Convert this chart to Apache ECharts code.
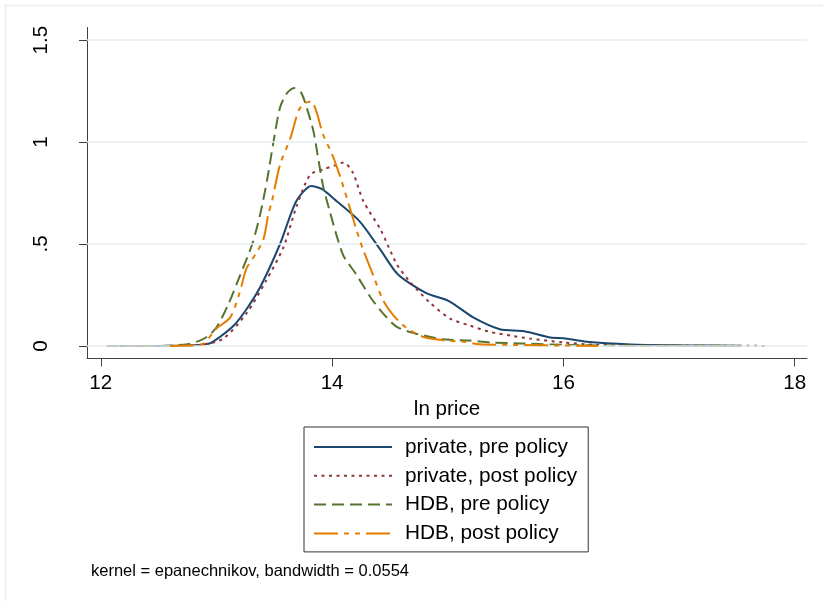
<!DOCTYPE html>
<html>
<head>
<meta charset="utf-8">
<script src="https://cdn.jsdelivr.net/npm/echarts@6/dist/echarts.min.js"></script>
<style>
html,body{margin:0;padding:0;background:#fff;}
#chart{width:823px;height:601px;}
</style>
</head>
<body>
<div id="chart"></div>
<script>
// ---- data ----
const seriesNames = ['private, pre policy', 'private, post policy', 'HDB, pre policy', 'HDB, post policy'];

const privatePreX = [12.16, 12.5, 12.8, 12.94, 13.03, 13.15, 13.26, 13.38, 13.55, 13.69, 13.82, 13.91, 14.04, 14.24, 14.42, 14.57, 14.81, 15.01, 15.22, 15.45, 15.66, 15.89, 16.0, 16.2, 16.58, 17.0, 17.53];
const privatePreY = [0, 0, 0.003, 0.012, 0.044, 0.10, 0.18, 0.29, 0.50, 0.71, 0.785, 0.77, 0.71, 0.61, 0.47, 0.35, 0.26, 0.22, 0.14, 0.082, 0.072, 0.041, 0.038, 0.02, 0.007, 0.003, 0.001];

const privatePostX = [12.25, 12.6, 12.86, 13.06, 13.26, 13.43, 13.58, 13.69, 13.81, 13.92, 14.02, 14.10, 14.18, 14.27, 14.42, 14.56, 14.68, 14.85, 15.02, 15.19, 15.37, 15.55, 15.71, 16.0, 16.29, 16.8, 17.3, 17.75];
const privatePostY = [0, 0, 0.005, 0.036, 0.16, 0.32, 0.485, 0.68, 0.84, 0.865, 0.885, 0.90, 0.85, 0.71, 0.57, 0.40, 0.31, 0.21, 0.134, 0.10, 0.068, 0.05, 0.036, 0.017, 0.005, 0.002, 0.001, 0];

const hdbPreX = [12.05, 12.5, 12.75, 12.85, 12.92, 13.0, 13.1, 13.2, 13.31, 13.38, 13.44, 13.49, 13.55, 13.61, 13.67, 13.73, 13.78, 13.84, 13.92, 13.98, 14.04, 14.10, 14.21, 14.33, 14.44, 14.56, 14.70, 14.85, 14.99, 15.19, 15.37, 15.63, 16.15, 16.8, 17.5];
const hdbPreY = [0, 0, 0.008, 0.025, 0.045, 0.09, 0.20, 0.34, 0.50, 0.65, 0.82, 0.99, 1.17, 1.24, 1.265, 1.245, 1.17, 1.05, 0.79, 0.66, 0.54, 0.44, 0.35, 0.24, 0.16, 0.093, 0.064, 0.044, 0.031, 0.026, 0.017, 0.012, 0.003, 0.001, 0];

const hdbPostX = [12.6, 12.8, 12.89, 13.0, 13.12, 13.20, 13.26, 13.35, 13.41, 13.45, 13.48, 13.55, 13.64, 13.71, 13.76, 13.82, 13.87, 13.92, 14.0, 14.07, 14.16, 14.21, 14.27, 14.36, 14.44, 14.53, 14.65, 14.79, 14.96, 15.14, 15.28, 15.57, 16.0, 16.3];
const hdbPostY = [0, 0.003, 0.012, 0.085, 0.14, 0.26, 0.38, 0.46, 0.53, 0.65, 0.71, 0.89, 1.02, 1.155, 1.19, 1.20, 1.14, 1.04, 0.94, 0.83, 0.665, 0.57, 0.47, 0.34, 0.224, 0.15, 0.085, 0.044, 0.028, 0.02, 0.008, 0.005, 0.002, 0];

const xTickValues = [12, 14, 16, 18];
const yTickValues = [0, 0.5, 1, 1.5];
const yTickLabels = ['0', '.5', '1', '1.5'];
const xAxisTitle = 'ln price';
const noteText = 'kernel = epanechnikov, bandwidth = 0.0554';

// ---- build ----
function pairs(xs, ys) { return xs.map((x, i) => [x, ys[i]]); }
const FONT = '"Liberation Sans", Arial, Helvetica, sans-serif';
const colors = ['#1a476f', '#90353b', '#55752f', '#e37e00'];
const dashes = ['solid', [3, 4.5], [12, 6], [24, 6, 5, 6, 5, 6]];
const datasets = [pairs(privatePreX, privatePreY), pairs(privatePostX, privatePostY), pairs(hdbPreX, hdbPreY), pairs(hdbPostX, hdbPostY)];

const series = [{
  name: '__grid', type: 'line', data: [], silent: true, z: 1,
  markLine: {
    silent: true, symbol: ['none', 'none'], label: { show: false },
    lineStyle: { color: '#e6edf1', width: 1.5, type: 'solid' },
    data: yTickValues.map(v => ({ yAxis: v }))
  }
}];
seriesNames.forEach((n, i) => {
  series.push({
    name: n, type: 'line', data: datasets[i], symbol: 'none', showSymbol: false,
    smooth: 0.25, z: 2 + i,
    lineStyle: { color: colors[i], width: 2, type: dashes[i], cap: 'butt' },
    itemStyle: { color: colors[i] }
  });
});

const chart = echarts.init(document.getElementById('chart'), null, { renderer: 'canvas' });
chart.setOption({
  animation: false,
  backgroundColor: '#ffffff',
  textStyle: { fontFamily: FONT },
  grid: { left: 87, top: 27.5, width: 720, height: 331, containLabel: false },
  xAxis: {
    type: 'value', min: 11.881, max: 18.106,
    name: xAxisTitle, nameLocation: 'middle', nameGap: 36,
    nameTextStyle: { fontSize: 20.6, color: '#000', fontFamily: FONT },
    axisLine: { show: true, onZero: false, lineStyle: { color: '#404040', width: 1 } },
    axisTick: { show: true, length: 8, inside: false, customValues: xTickValues, lineStyle: { color: '#404040' } },
    axisLabel: { fontSize: 20.6, color: '#000', margin: 14, customValues: xTickValues, fontFamily: FONT },
    splitLine: { show: false }
  },
  yAxis: {
    type: 'value', min: -0.0618, max: 1.5623,
    axisLine: { show: true, onZero: false, lineStyle: { color: '#404040', width: 1 } },
    axisTick: { show: true, length: 8, inside: false, customValues: yTickValues, lineStyle: { color: '#404040' } },
    axisLabel: {
      fontSize: 20.6, color: '#000', margin: 35, rotate: 90, customValues: yTickValues, fontFamily: FONT,
      formatter: v => { const k = yTickValues.findIndex(t => Math.abs(t - v) < 1e-9); return k >= 0 ? yTickLabels[k] : ''; }
    },
    splitLine: { show: false }
  },
  legend: {
    data: seriesNames,
    orient: 'vertical', left: 304, top: 427,
    padding: [9.5, 11, 8, 9],
    itemWidth: 78, itemHeight: 14, itemGap: 7.8,
    borderColor: '#333', borderWidth: 1,
    itemStyle: { opacity: 0 },
    textStyle: { fontSize: 20.8, color: '#000', fontFamily: FONT, padding: [0, 0, 0, 8] },
    selectedMode: false
  },
  graphic: [
    { type: 'rect', silent: true, z: -10, shape: { x: 5.5, y: 5.5, width: 840, height: 620 }, style: { fill: 'none', stroke: '#e6edf1', lineWidth: 1.5 } },
    { type: 'text', silent: true, left: 91, top: 563, style: { text: noteText, fontSize: 16.5, fill: '#000', fontFamily: FONT } }
  ],
  series: series
});
</script>
</body>
</html>
